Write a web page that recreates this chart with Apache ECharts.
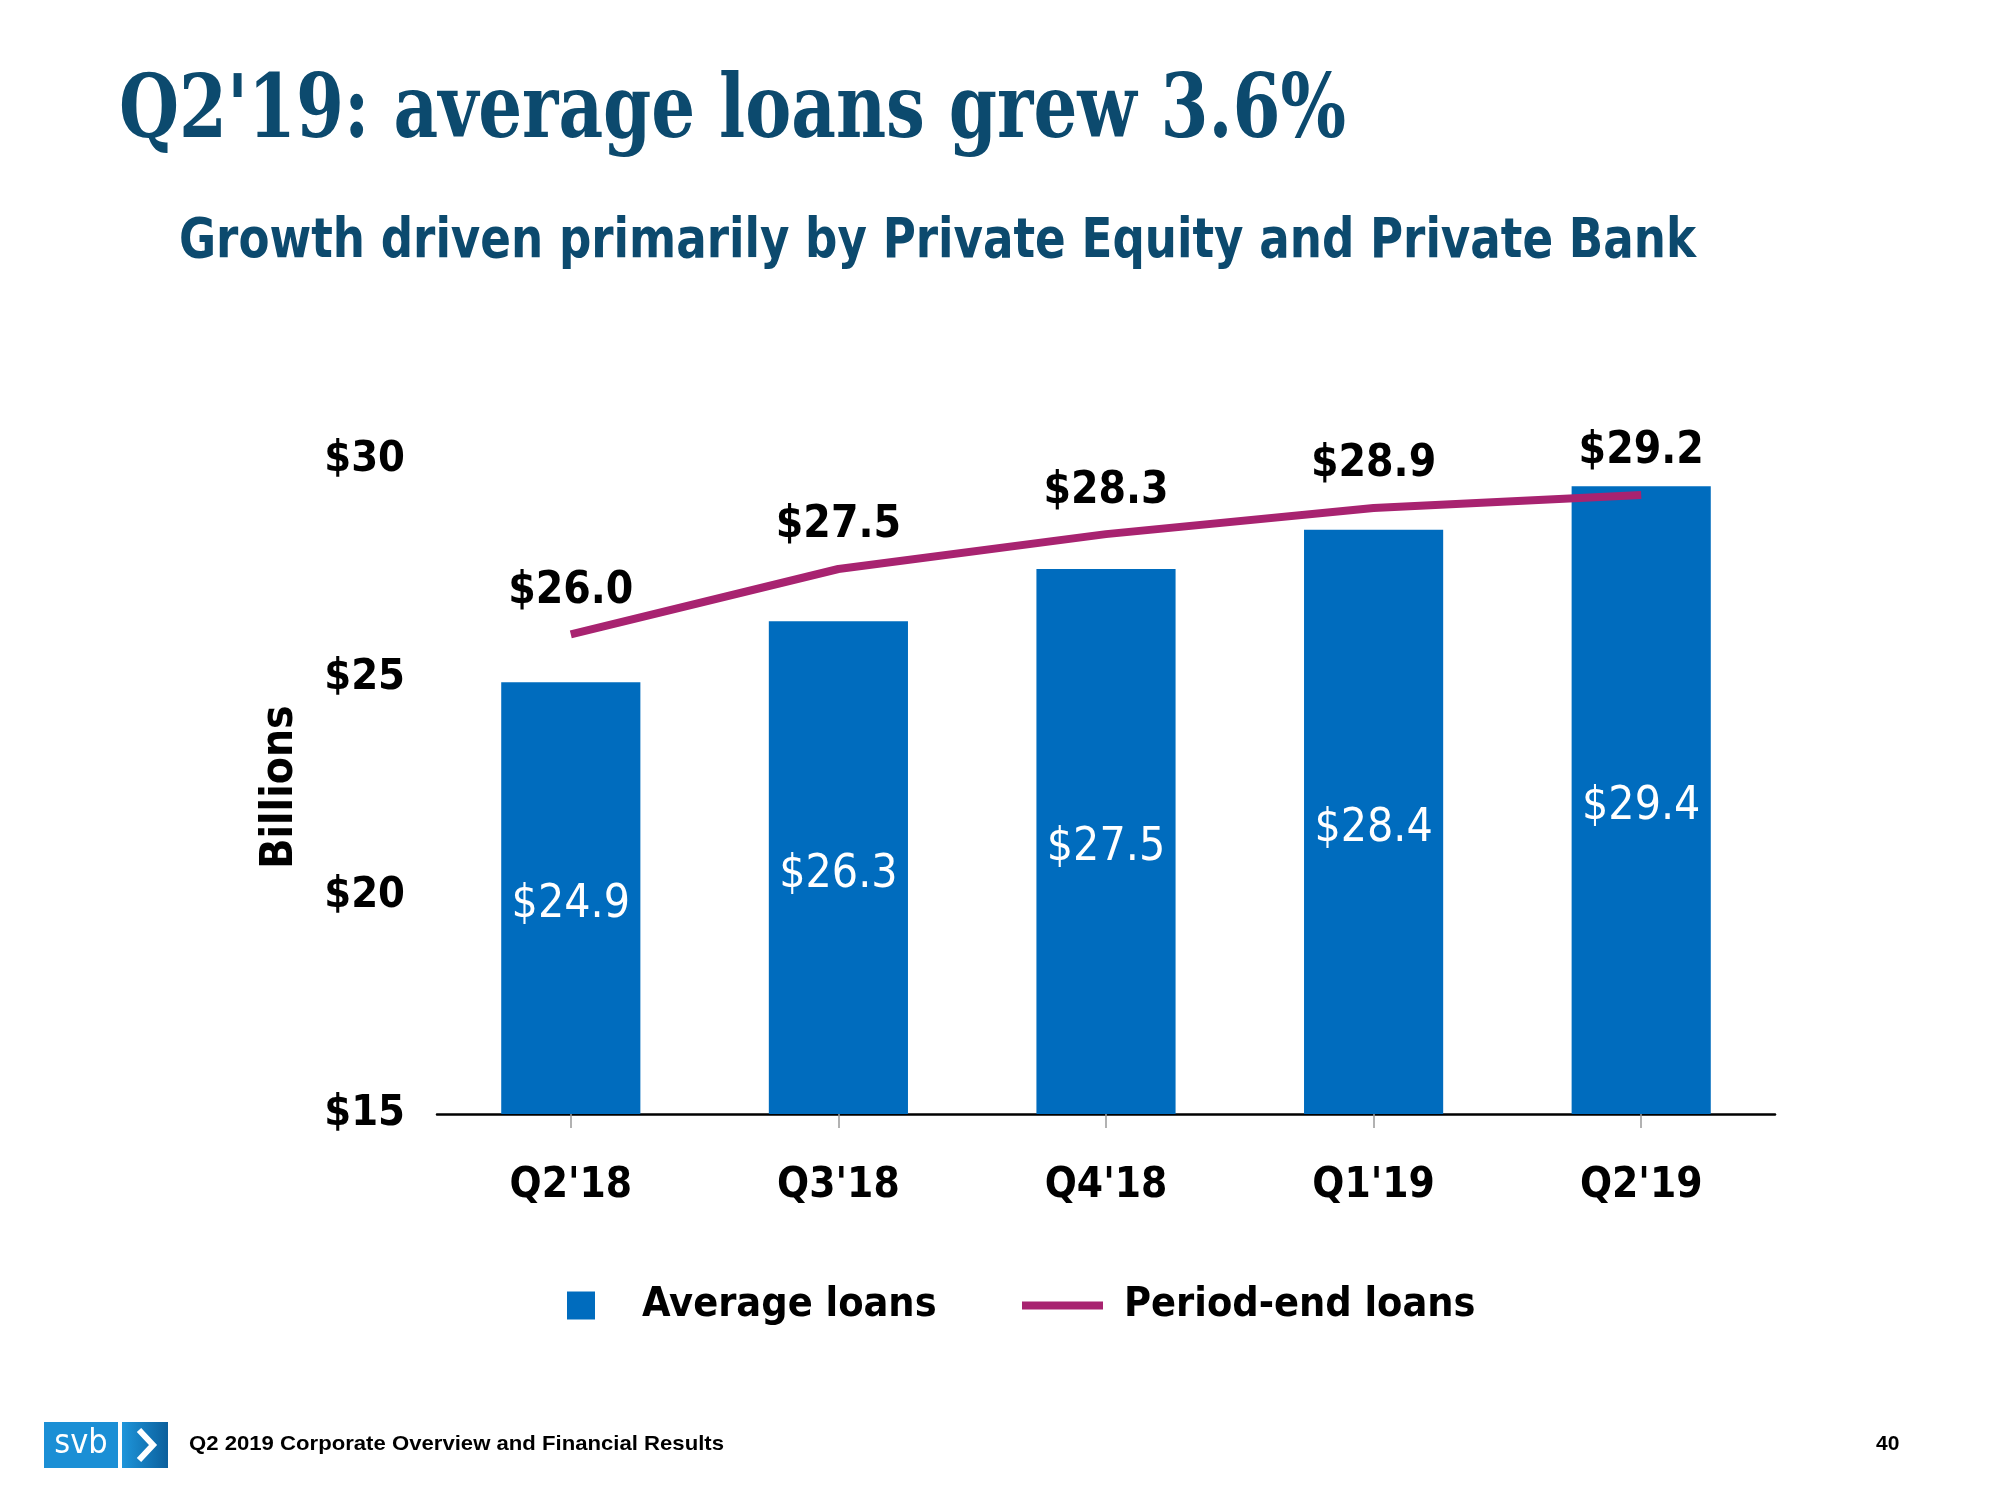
<!DOCTYPE html>
<html>
<head>
<meta charset="utf-8">
<script src="https://cdn.jsdelivr.net/npm/echarts@6/dist/echarts.min.js"></script>
<style>html,body{margin:0;padding:0;background:#fff}#c{width:2000px;height:1500px}</style>
</head>
<body>
<div id="c"></div>
<script>
const categories = ["Q2'18", "Q3'18", "Q4'18", "Q1'19", "Q2'19"];
const averageLoans = [24.9, 26.3, 27.5, 28.4, 29.4];
const periodEndLoans = [26.0, 27.5, 28.3, 28.9, 29.2];
const seriesNames = ["Average loans", "Period-end loans"];
const yTicks = [15, 20, 25, 30];
const titleText = "Q2'19: average loans grew 3.6%";
const subtitleText = "Growth driven primarily by Private Equity and Private Bank";
const footerText = "Q2 2019 Corporate Overview and Financial Results";
const pageNumber = "40";

const SANS = "'Liberation Sans Narrow','DejaVu Sans Condensed','Roboto Condensed','Liberation Sans',sans-serif";
const SERIF = "'DejaVu Serif Condensed','DejaVu Serif',serif";
const NAVY = '#0C4A6E';
const BAR = '#006CBE';
const LINE = '#A82370';

function fit(text, font, target) {
  const ctx = document.createElement('canvas').getContext('2d');
  ctx.font = font;
  return target / ctx.measureText(text).width;
}

const chart = echarts.init(document.getElementById('c'), null, {renderer: 'canvas'});
const money = v => '$' + Number(v).toFixed(1);

const option = {
  backgroundColor: '#ffffff',
  animation: false,
  grid: {left: 437, right: 225, top: 460, bottom: 386, containLabel: false},
  legend: [
    {
      data: [{name: seriesNames[0], icon: 'rect'}],
      left: 562, top: 1280, itemWidth: 28, itemHeight: 28,
      textStyle: {fontSize: 41, fontWeight: 'bold', fontFamily: SANS, color: '#000', padding: [0, 0, 0, 42]}
    },
    {
      data: [{name: seriesNames[1], icon: 'rect'}],
      left: 1017, top: 1280, itemWidth: 81, itemHeight: 8,
      textStyle: {fontSize: 41, fontWeight: 'bold', fontFamily: SANS, color: '#000', padding: [0, 0, 0, 16]}
    }
  ],
  xAxis: {
    type: 'category',
    data: categories,
    axisLine: {show: true, lineStyle: {color: '#000', width: 2.5}},
    axisTick: {show: true, alignWithLabel: true, length: 14, lineStyle: {color: '#999', width: 1.5}},
    axisLabel: {fontSize: 42, fontWeight: 'bold', fontFamily: SANS, color: '#000', margin: 51}
  },
  yAxis: {
    type: 'value',
    min: yTicks[0], max: yTicks[yTicks.length - 1], interval: 5,
    name: 'Billions',
    nameLocation: 'middle',
    nameGap: 134,
    nameRotate: 90,
    nameTextStyle: {fontSize: 44, fontWeight: 'bold', fontFamily: SANS, color: '#000'},
    axisLine: {show: false},
    axisTick: {show: false},
    splitLine: {show: false},
    axisLabel: {formatter: v => '$' + v, fontSize: 43, fontWeight: 'bold', fontFamily: SANS, color: '#000', margin: 32}
  },
  series: [
    {
      name: seriesNames[0],
      type: 'bar',
      data: averageLoans,
      barWidth: '52%',
      itemStyle: {color: BAR},
      label: {show: true, position: 'inside', offset: [0, 7], formatter: p => money(p.value), color: '#fff',
        fontSize: 46, fontWeight: 'normal', fontFamily: SANS}
    },
    {
      name: seriesNames[1],
      type: 'line',
      data: periodEndLoans,
      symbol: 'circle', symbolSize: 0, showSymbol: true,
      lineStyle: {color: LINE, width: 8},
      itemStyle: {color: LINE},
      label: {show: true, position: 'top', distance: 21, formatter: p => money(p.value), color: '#000',
        fontSize: 44, fontWeight: 'bold', fontFamily: SANS}
    }
  ],
  graphic: [
    {type: 'text', x: 119, y: 114, scaleX: fit(titleText, 'bold 88px ' + SERIF, 1227),
      style: {text: titleText, fontSize: 88, fontWeight: 'bold', fontFamily: SERIF, fill: NAVY, verticalAlign: 'middle'}},
    {type: 'text', x: 179, y: 242, scaleX: fit(subtitleText, 'bold 56px ' + SANS, 1517),
      style: {text: subtitleText, fontSize: 56, fontWeight: 'bold', fontFamily: SANS, fill: NAVY, verticalAlign: 'middle'}},
    {type: 'rect', shape: {x: 44, y: 1422, width: 74, height: 46}, style: {fill: '#1B8FD5'}},
    {type: 'text', x: 81, y: 1444, style: {text: 'svb', fontSize: 34, fontFamily: SANS, fill: '#fff', align: 'center', verticalAlign: 'middle'}},
    {type: 'rect', shape: {x: 122, y: 1422, width: 46, height: 46},
      style: {fill: new echarts.graphic.LinearGradient(0, 0, 1, 0, [{offset: 0, color: '#1E95DA'}, {offset: 1, color: '#0B5F9C'}])}},
    {type: 'polyline', shape: {points: [[139, 1430], [153, 1445], [139, 1460]]}, style: {stroke: '#fff', lineWidth: 6, fill: null}},
    {type: 'text', x: 189, y: 1444, scaleX: fit(footerText, 'bold 21px ' + "'Liberation Sans',Arial,sans-serif", 535),
      style: {text: footerText, fontSize: 21, fontWeight: 'bold', fontFamily: "'Liberation Sans',Arial,sans-serif", fill: '#000', verticalAlign: 'middle'}},
    {type: 'text', x: 1876, y: 1444,
      style: {text: pageNumber, fontSize: 21, fontWeight: 'bold', fontFamily: "'Liberation Sans',Arial,sans-serif", fill: '#000', verticalAlign: 'middle'}}
  ]
};
chart.setOption(option);
</script>
</body>
</html>
